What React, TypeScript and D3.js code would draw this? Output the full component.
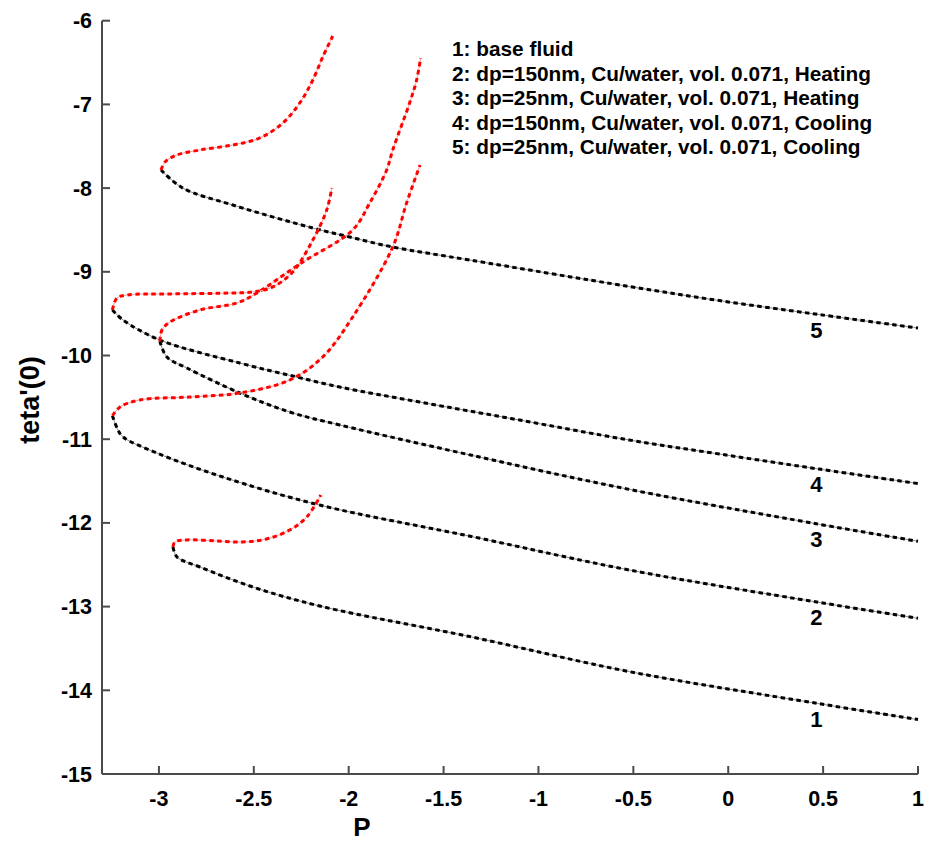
import React from "react";
import * as d3 from "d3";

// Axis ticks
const xTicks = [-3, -2.5, -2, -1.5, -1, -0.5, 0, 0.5, 1];
const yTicks = [-6, -7, -8, -9, -10, -11, -12, -13, -14, -15];

// Legend entries
const legendLines = [
  "1: base fluid",
  "2: dp=150nm, Cu/water, vol. 0.071, Heating",
  "3: dp=25nm, Cu/water, vol. 0.071, Heating",
  "4: dp=150nm, Cu/water, vol. 0.071, Cooling",
  "5: dp=25nm, Cu/water, vol. 0.071, Cooling",
];

// Lower (black) branches, from turning point to P = 1: [P, teta'(0)]
const lower1: [number, number][] = [
  [-2.926, -12.288], [-2.905, -12.407], [-2.784, -12.527], [-2.505, -12.766],
  [-2.153, -12.993], [-1.337, -13.37], [-0.521, -13.777], [0.479, -14.16], [1.0, -14.35],
];
const lower2: [number, number][] = [
  [-3.245, -10.72], [-3.216, -10.89], [-3.189, -10.974], [-3.011, -11.165],
  [-2.663, -11.452], [-2.153, -11.787], [-1.337, -12.17], [-0.521, -12.563],
  [0.479, -12.95], [1.0, -13.14],
];
const lower3: [number, number][] = [
  [-2.995, -9.83], [-2.958, -10.018], [-2.853, -10.149], [-2.574, -10.448],
  [-2.311, -10.675], [-2.047, -10.83], [-1.337, -11.2], [-0.521, -11.6],
  [0.463, -12.01], [1.0, -12.22],
];
const lower4: [number, number][] = [
  [-3.245, -9.456], [-3.189, -9.576], [-2.995, -9.815], [-2.574, -10.09],
  [-2.274, -10.257], [-2.047, -10.377], [-1.626, -10.556], [-1.1, -10.771],
  [-0.521, -11.01], [-0.047, -11.177], [0.479, -11.357], [1.0, -11.53],
];
const lower5: [number, number][] = [
  [-2.989, -7.784], [-2.874, -8.0], [-2.611, -8.202], [-2.189, -8.477],
  [-1.995, -8.584], [-1.768, -8.704], [-1.363, -8.859], [-0.521, -9.176],
  [-0.047, -9.344], [0.479, -9.511], [1.0, -9.672],
];

// Upper (red) branches, from turning point upward: [P, teta'(0)]
const upper1: [number, number][] = [
  [-2.926, -12.288], [-2.916, -12.228], [-2.853, -12.204], [-2.695, -12.216],
  [-2.558, -12.228], [-2.432, -12.192], [-2.311, -12.085], [-2.221, -11.93], [-2.147, -11.667],
];
const upper2: [number, number][] = [
  [-3.245, -10.72], [-3.205, -10.615], [-3.1, -10.531], [-2.837, -10.496],
  [-2.574, -10.448], [-2.311, -10.293], [-2.137, -10.018], [-1.979, -9.54],
  [-1.768, -8.704], [-1.695, -8.178], [-1.624, -7.724],
];
const upper3: [number, number][] = [
  [-2.995, -9.83], [-2.984, -9.695], [-2.942, -9.6], [-2.784, -9.456],
  [-2.589, -9.373], [-2.484, -9.253], [-2.258, -8.906], [-1.979, -8.5],
  [-1.889, -8.178], [-1.8, -7.784], [-1.768, -7.545], [-1.679, -6.983],
  [-1.642, -6.708], [-1.621, -6.446],
];
const upper4: [number, number][] = [
  [-3.245, -9.456], [-3.221, -9.313], [-3.168, -9.277], [-2.958, -9.265],
  [-2.611, -9.253], [-2.505, -9.241], [-2.4, -9.181], [-2.295, -9.002],
  [-2.189, -8.62], [-2.116, -8.262], [-2.089, -7.999],
];
const upper5: [number, number][] = [
  [-2.989, -7.784], [-2.968, -7.688], [-2.905, -7.604], [-2.784, -7.545],
  [-2.611, -7.485], [-2.468, -7.401], [-2.347, -7.222], [-2.258, -6.983],
  [-2.189, -6.708], [-2.137, -6.434], [-2.084, -6.183],
];

const lowerBranches = [lower1, lower2, lower3, lower4, lower5];
const upperBranches = [upper1, upper2, upper3, upper4, upper5];
const curveLabels = ["1", "2", "3", "4", "5"];
const labelP = 0.48;

const W = 936;
const H = 843;
const FONT = "'Liberation Sans', Arial, sans-serif";

export default function App() {
  const x = d3.scaleLinear().domain([-3.3, 1]).range([102, 918]);
  const y = d3.scaleLinear().domain([-15, -6]).range([774, 20.7]);
  const line = d3
    .line<[number, number]>()
    .x((d) => x(d[0]))
    .y((d) => y(d[1]))
    .curve(d3.curveCatmullRom.alpha(0.5));

  const interp = (arr: [number, number][], p: number) => {
    for (let i = 0; i < arr.length - 1; i++) {
      const a = arr[i], b = arr[i + 1];
      if (p >= a[0] && p <= b[0]) {
        const t = (p - a[0]) / (b[0] - a[0]);
        return a[1] + t * (b[1] - a[1]);
      }
    }
    return arr[arr.length - 1][1];
  };

  const axisColor = "#4a4a4a";

  return (
    <svg
      width={W}
      height={H}
      style={{ position: "fixed", left: 0, top: 0, background: "#fff" }}
      fontFamily={FONT}
      fontWeight="bold"
    >
      <rect x={0} y={0} width={W} height={H} fill="#fff" />
      {/* curves */}
      {lowerBranches.map((b, i) => (
        <g key={"l" + i}>
          <path d={line(b) || ""} fill="none" stroke="#8a8a8a" strokeWidth={1} />
          <path d={line(b) || ""} fill="none" stroke="#000" strokeWidth={3} strokeDasharray="4.5 3.5" />
        </g>
      ))}
      {upperBranches.map((b, i) => (
        <g key={"u" + i}>
          <path d={line(b) || ""} fill="none" stroke="#ff9a9a" strokeWidth={1} />
          <path d={line(b) || ""} fill="none" stroke="#ff0000" strokeWidth={3} strokeDasharray="4.5 3.5" />
        </g>
      ))}

      {/* axes */}
      <line x1={x(-3.3)} x2={x(1)} y1={774} y2={774} stroke={axisColor} strokeWidth={2} />
      <line x1={102} x2={102} y1={y(-6)} y2={774} stroke={axisColor} strokeWidth={2} />
      {xTicks.map((t) => (
        <g key={"xt" + t}>
          <line x1={x(t)} x2={x(t)} y1={774} y2={766} stroke={axisColor} strokeWidth={2} />
          <text x={x(t)} y={806} textAnchor="middle" fontSize={21.5} fill="#000">
            {t}
          </text>
        </g>
      ))}
      {yTicks.map((t) => (
        <g key={"yt" + t}>
          <line x1={102} x2={110} y1={y(t)} y2={y(t)} stroke={axisColor} strokeWidth={2} />
          <text x={92} y={y(t) + 7.5} textAnchor="end" fontSize={21.5} fill="#000">
            {t}
          </text>
        </g>
      ))}

      {/* axis titles */}
      <text x={362} y={836} textAnchor="middle" fontSize={26} fill="#000">
        P
      </text>
      <text
        transform={`translate(39, 400) rotate(-90)`}
        textAnchor="middle"
        fontSize={27}
        fill="#000"
      >
        teta'(0)
      </text>

      {/* curve labels */}
      {lowerBranches.map((b, i) => (
        <text
          key={"cl" + i}
          x={x(labelP) - 3}
          y={y(interp(b, labelP)) + 23}
          textAnchor="middle"
          fontSize={22}
          fill="#000"
        >
          {curveLabels[i]}
        </text>
      ))}

      {/* legend */}
      {legendLines.map((s, i) => (
        <text key={"lg" + i} x={452} y={56 + i * 24.5} fontSize={20.8} fill="#000">
          {s}
        </text>
      ))}
    </svg>
  );
}
